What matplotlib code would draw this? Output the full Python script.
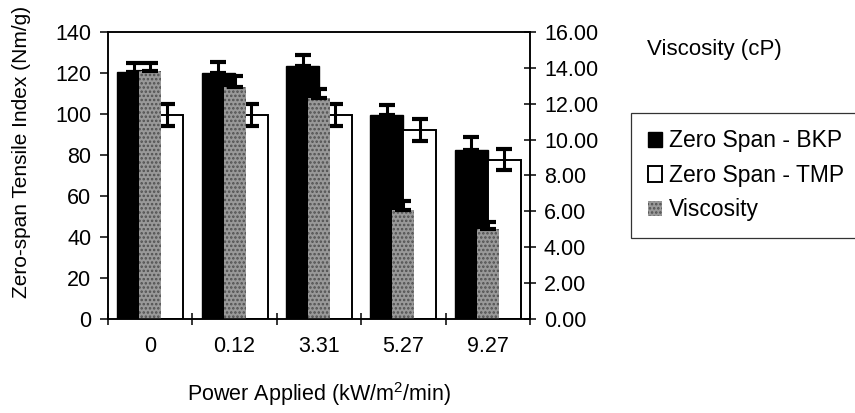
import matplotlib
matplotlib.use('Agg')
import matplotlib.pyplot as plt
import numpy as np
from matplotlib.ticker import FixedLocator, NullFormatter, FixedFormatter, FormatStrFormatter

# ---- data ----
categories = ['0', '0.12', '3.31', '5.27', '9.27']
bkp = [120.5, 120.0, 123.5, 99.5, 82.5]
bkp_err = [4.5, 5.5, 5.4, 4.9, 6.2]
tmp = [99.5, 99.5, 99.5, 92.2, 77.8]
tmp_err = [5.5, 5.3, 5.4, 5.2, 5.2]
visc = [13.8, 12.95, 12.3, 6.1, 5.0]
visc_err = [0.47, 0.6, 0.55, 0.46, 0.42]
left_ticks = [0, 20, 40, 60, 80, 100, 120, 140]
right_ticks = [0, 2, 4, 6, 8, 10, 12, 14, 16]

plt.rcParams['font.family'] = ['Liberation Sans', 'DejaVu Sans']
plt.rcParams['mathtext.fontset'] = 'custom'
plt.rcParams['mathtext.rm'] = 'Liberation Sans'
plt.rcParams['hatch.linewidth'] = 1.2

fig = plt.figure(figsize=(8.55, 4.13), dpi=100)
ax = fig.add_axes([108/855, 1-319/413, (530-108)/855, (319-32)/413])

x = np.arange(len(categories))
zeros = np.zeros(len(categories))

b1 = ax.bar(x - 0.195, bkp, width=0.39, color='black', edgecolor='black', linewidth=1.0)
b2 = ax.bar(x + 0.195, tmp, width=0.39, color='white', edgecolor='black', linewidth=1.4)
ax.errorbar(x - 0.195, bkp, yerr=[zeros, bkp_err], fmt='none', ecolor='black',
            elinewidth=2.2, capsize=6, capthick=3.0)
ax.errorbar(x + 0.195, tmp, yerr=[tmp_err, tmp_err], fmt='none', ecolor='black',
            elinewidth=2.2, capsize=6, capthick=3.0)

ax2 = ax.twinx()
b3 = ax2.bar(x, visc, width=0.26, color='#999999', edgecolor='#505050', hatch='....', linewidth=0)
ax2.errorbar(x, visc, yerr=[zeros, visc_err], fmt='none', ecolor='black',
             elinewidth=2.2, capsize=6, capthick=3.0)

ax.set_xlim(-0.5, len(categories) - 0.5)
ax.set_ylim(0, 140)
ax2.set_ylim(0, 16)

# x ticks: marks at category boundaries, labels at centres
ax.xaxis.set_major_locator(FixedLocator(np.arange(-0.5, len(categories), 1.0)))
ax.xaxis.set_major_formatter(NullFormatter())
ax.xaxis.set_minor_locator(FixedLocator(x))
ax.xaxis.set_minor_formatter(FixedFormatter(categories))
ax.tick_params(axis='x', which='major', direction='inout', length=9, width=1.1)
ax.tick_params(axis='x', which='minor', length=0, pad=12, labelsize=15.5)

ax.set_yticks(left_ticks)
ax.tick_params(axis='y', direction='out', length=6, width=1.1, pad=6, labelsize=15.5)
ax2.set_yticks(right_ticks)
ax2.yaxis.set_major_formatter(FormatStrFormatter('%.2f'))
ax2.tick_params(axis='y', direction='inout', length=8, width=1.1, pad=6, labelsize=15.5)

for a in (ax, ax2):
    for s in a.spines.values():
        s.set_linewidth(1.1)
        s.set_color('black')

fig.text(22/855, 1-152/413, 'Zero-span Tensile Index (Nm/g)', rotation=90,
         ha='center', va='center', fontsize=15)
fig.text(319/855, 1-394/413, 'Power Applied (kW/m$^2$/min)', ha='center', va='center', fontsize=15.5)
fig.text(647/855, 1-49/413, 'Viscosity (cP)', ha='left', va='center', fontsize=16)

leg = ax2.legend([b1, b2, b3], ['Zero Span - BKP', 'Zero Span - TMP', 'Viscosity'],
                 loc='upper left', bbox_to_anchor=(631/855, 1-113/413),
                 bbox_transform=fig.transFigure, frameon=True, fancybox=False,
                 edgecolor='#333333', framealpha=1, handlelength=0.65, handleheight=0.65,
                 handletextpad=0.3, labelspacing=0.5, borderpad=0.72, borderaxespad=0,
                 fontsize=16.5)
leg.get_frame().set_linewidth(0.9)

fig.savefig('out.png', dpi=100)
